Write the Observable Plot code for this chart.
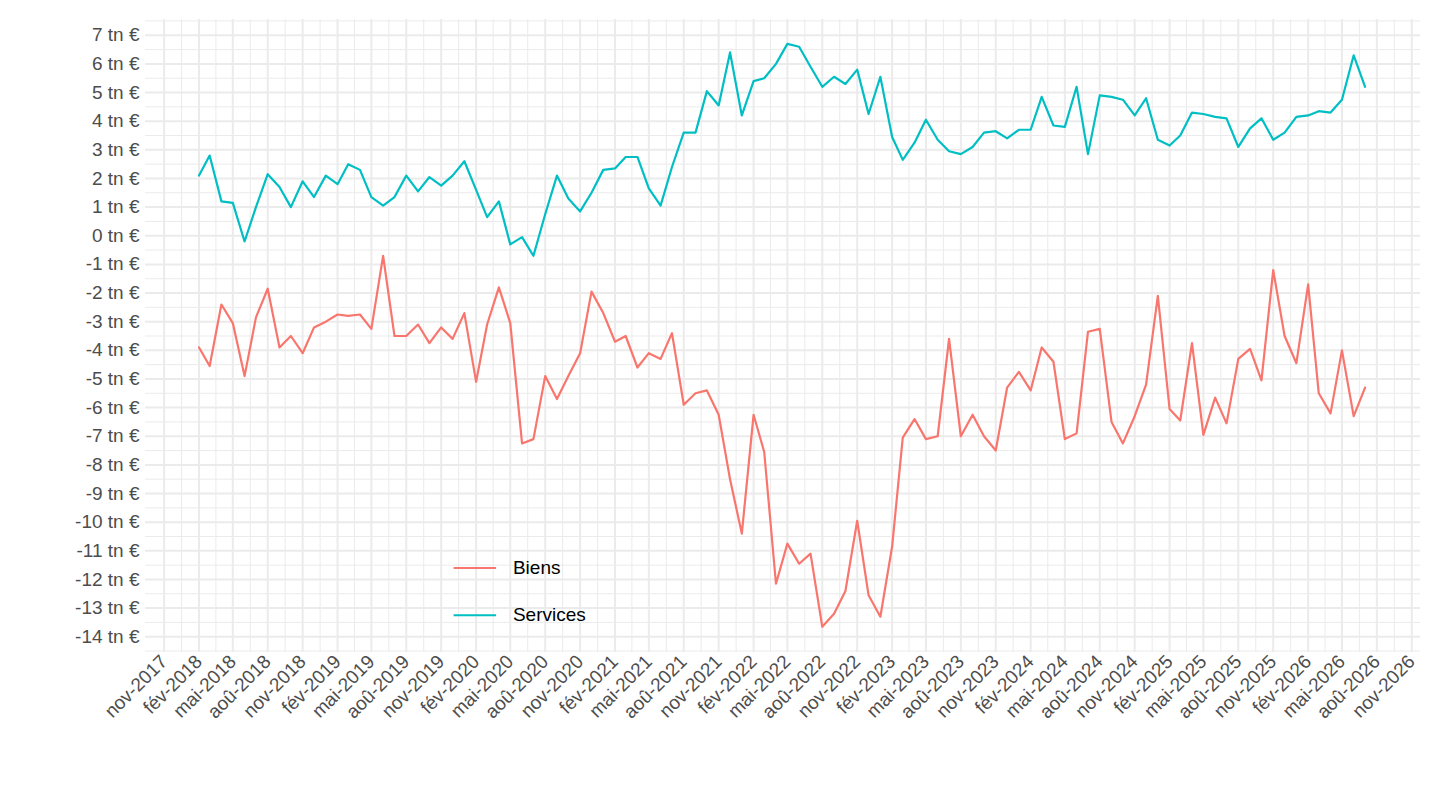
<!DOCTYPE html>
<html><head><meta charset="utf-8">
<script src="https://cdn.jsdelivr.net/npm/d3@7"></script>
<script src="https://cdn.jsdelivr.net/npm/@observablehq/plot@0.6"></script>
<style>body{margin:0;background:#fff;font-family:"Liberation Sans",Arial,sans-serif}</style>
</head><body><div id="chart"></div>
<script>
const startYear = 2018, startMonth = 1; // Feb 2018 (0-based month)
const services = [2.1,2.8,1.2,1.15,-0.2,1.0,2.15,1.7,1.0,1.9,1.35,
2.1,1.8,2.5,2.3,1.35,1.05,1.35,2.1,1.55,2.05,1.75,2.1,
2.6,1.6,0.65,1.2,-0.3,-0.05,-0.7,0.75,2.1,1.3,0.85,1.5,
2.3,2.35,2.75,2.75,1.65,1.05,2.4,3.6,3.6,5.05,4.55,6.4,
4.2,5.4,5.5,6.0,6.7,6.6,5.9,5.2,5.55,5.3,5.8,4.25,
5.55,3.45,2.65,3.25,4.05,3.35,2.95,2.85,3.1,3.6,3.65,3.4,
3.7,3.7,4.85,3.85,3.8,5.2,2.85,4.9,4.85,4.75,4.2,4.8,
3.35,3.15,3.5,4.3,4.25,4.15,4.1,3.1,3.75,4.1,3.35,3.6,
4.15,4.2,4.35,4.3,4.75,6.3,5.2];
const biens = [-3.9,-4.55,-2.4,-3.05,-4.9,-2.85,-1.85,-3.9,-3.5,-4.1,-3.2,
-3.0,-2.75,-2.8,-2.75,-3.25,-0.7,-3.5,-3.5,-3.1,-3.75,-3.2,-3.6,
-2.7,-5.1,-3.1,-1.8,-3.05,-7.25,-7.1,-4.9,-5.7,-4.9,-4.1,-1.95,
-2.7,-3.7,-3.5,-4.6,-4.1,-4.3,-3.4,-5.9,-5.5,-5.4,-6.25,-8.5,
-10.4,-6.25,-7.55,-12.15,-10.75,-11.45,-11.1,-13.65,-13.2,-12.4,-9.95,-12.55,
-13.3,-10.85,-7.05,-6.4,-7.1,-7.0,-3.6,-7.0,-6.25,-7.0,-7.5,-5.3,
-4.75,-5.4,-3.9,-4.4,-7.1,-6.9,-3.35,-3.25,-6.5,-7.25,-6.3,-5.2,
-2.1,-6.05,-6.45,-3.75,-6.95,-5.65,-6.55,-4.3,-3.95,-5.05,-1.2,-3.5,
-4.45,-1.7,-5.5,-6.2,-4.0,-6.3,-5.3];
const seriesNames = ["Biens","Services"];
const colors = ["#F8766D","#00BFC4"];
const yTicks = d3.range(-14, 8, 1);
const moisFr = ["janv","fév","mars","avr","mai","juin","juil","aoû","sept","oct","nov","déc"];
const xTicks = d3.range(0, 37).map(i => new Date(2017, 10 + 3*i, 1));

const data = [];
biens.forEach((v,i)=>data.push({date:new Date(startYear,startMonth+i,1),value:v,serie:"Biens"}));
services.forEach((v,i)=>data.push({date:new Date(startYear,startMonth+i,1),value:v,serie:"Services"}));

const xDomain = [new Date(2017,8,13), new Date(2026,10,24)];
const minorX = xTicks.slice(0,-1).map((d,i)=>new Date((+d + +xTicks[i+1])/2));
const minorY = yTicks.map(v=>v+0.5).concat([-14.5]);

const chart = Plot.plot({
  width: 1440, height: 810,
  marginLeft: 145, marginRight: 20, marginTop: 19, marginBottom: 158,
  style: {fontFamily: "Liberation Sans, Arial, sans-serif", fontSize: "19px", color: "#4d4d4d"},
  x: {type: "time", domain: xDomain, ticks: xTicks, tickFormat: d => moisFr[d.getMonth()] + "-" + d.getFullYear(), tickRotate: -45, tickSize: 0, label: null, tickPadding: 6},
  y: {domain: [-14.55, 7.55], ticks: yTicks, tickFormat: v => v + " tn €", tickSize: 0, label: null, tickPadding: 6},
  color: {domain: seriesNames, range: colors},
  marks: [
    Plot.ruleY(minorY, {stroke: "#ebebeb", strokeWidth: 1}),
    Plot.ruleX(minorX, {stroke: "#ebebeb", strokeWidth: 1}),
    Plot.ruleY(yTicks, {stroke: "#ebebeb", strokeWidth: 2}),
    Plot.ruleX(xTicks, {stroke: "#ebebeb", strokeWidth: 2}),
    Plot.line(data, {x: "date", y: "value", z: "serie", stroke: "serie", strokeWidth: 2.2}),
    Plot.ruleY(seriesNames.map((s,i)=>({s, y: -11.6 - 1.65*i})), {x1: new Date(2019,11,5), x2: new Date(2020,2,26), y: "y", stroke: "s", strokeWidth: 2.2}),
    Plot.text(seriesNames.map((s,i)=>({s, y: -11.6 - 1.65*i})), {x: new Date(2020,4,8), y: "y", text: "s", textAnchor: "start", fontSize: 19, fill: "black"})
  ]
});
document.getElementById("chart").append(chart);
</script></body></html>
